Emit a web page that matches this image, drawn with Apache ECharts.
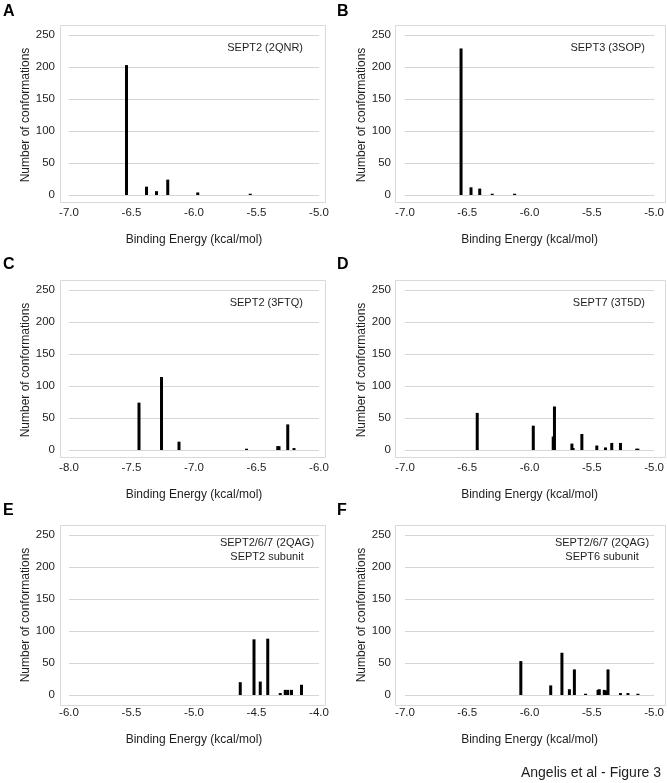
<!DOCTYPE html>
<html>
<head>
<meta charset="utf-8">
<script src="https://cdn.jsdelivr.net/npm/echarts@6/dist/echarts.min.js"></script>
<style>
  html, body { margin: 0; padding: 0; background: #ffffff; }
  #chart { width: 667px; height: 783px; }
</style>
</head>
<body>
<div id="chart"></div>
<script>
// ---- Data (binding energy in kcal/mol, number of conformations) ----
const energyA = [-6.54, -6.38, -6.30, -6.21, -5.97, -5.55];
const countA  = [203, 13, 6, 24, 4, 2];

const energyB = [-6.55, -6.47, -6.40, -6.30, -6.12];
const countB  = [229, 12, 10, 2, 2];

const energyC = [-7.44, -7.26, -7.12, -6.58, -6.33, -6.32, -6.25, -6.20];
const countC  = [74, 114, 13, 2, 6, 6, 40, 3];

const energyD = [-6.42, -5.97, -5.81, -5.80, -5.66, -5.65, -5.58, -5.46, -5.39, -5.34, -5.27, -5.14, -5.13];
const countD  = [58, 38, 21, 68, 10, 3, 25, 7, 4, 11, 11, 2, 2];

const energyE = [-4.63, -4.52, -4.47, -4.41, -4.31, -4.27, -4.25, -4.22, -4.14];
const countE  = [20, 87, 21, 88, 3, 8, 8, 8, 16];

const energyF = [-6.07, -5.83, -5.74, -5.68, -5.64, -5.55, -5.45, -5.44, -5.40, -5.39, -5.37, -5.27, -5.21, -5.13];
const countF  = [53, 15, 66, 9, 40, 2, 8, 9, 8, 7, 40, 3, 3, 2];

const panelLetters = ['A', 'B', 'C', 'D', 'E', 'F'];
const panelTitles = [
  ['SEPT2 (2QNR)'],
  ['SEPT3 (3SOP)'],
  ['SEPT2 (3FTQ)'],
  ['SEPT7 (3T5D)'],
  ['SEPT2/6/7 (2QAG)', 'SEPT2 subunit'],
  ['SEPT2/6/7 (2QAG)', 'SEPT6 subunit']
];
const xRanges = [[-7, -5], [-7, -5], [-8, -6], [-7, -5], [-6, -4], [-7, -5]];
const yTicks = [0, 50, 100, 150, 200, 250];
const xName = 'Binding Energy (kcal/mol)';
const yName = 'Number of conformations';
const footer = 'Angelis et al - Figure 3';

const energies = [energyA, energyB, energyC, energyD, energyE, energyF];
const counts = [countA, countB, countC, countD, countE, countF];

// ---- Layout ----
const FONT = 'Liberation Sans, Arial, Helvetica, sans-serif';
const TXT = '#1e1e1e';
const colLeft = [69, 405];
const gridW = 250;
const rowTop = [35, 290, 535];
const gridH = 160;
const frameX = [60, 395];
const frameW = [265, 270];
const frameY = [25, 280, 525];
const frameH = [177, 177, 180];

const grids = [], xAxes = [], yAxes = [], series = [], graphics = [];

for (let i = 0; i < 6; i++) {
  const col = i % 2, row = Math.floor(i / 2);
  grids.push({ left: colLeft[col], top: rowTop[row], width: gridW, height: gridH, containLabel: false });
  xAxes.push({
    type: 'value', gridIndex: i,
    min: xRanges[i][0], max: xRanges[i][1], interval: 0.5,
    axisLine: { show: false }, axisTick: { show: false }, splitLine: { show: false },
    axisLabel: { formatter: v => v.toFixed(1), fontSize: 11.5, color: TXT, fontFamily: FONT, margin: 12 },
    name: xName, nameLocation: 'middle', nameGap: 39,
    nameTextStyle: { fontSize: 12, color: TXT, fontFamily: FONT }
  });
  yAxes.push({
    type: 'value', gridIndex: i,
    min: yTicks[0], max: yTicks[yTicks.length - 1], interval: 50,
    axisLine: { show: false }, axisTick: { show: false },
    splitLine: { show: true, lineStyle: { color: '#d6d6d6', width: 1 } },
    axisLabel: { fontSize: 11.5, color: TXT, fontFamily: FONT, margin: 14 },
    name: yName, nameLocation: 'middle', nameGap: 35,
    nameTextStyle: { fontSize: 12, color: TXT, fontFamily: FONT }
  });
  series.push({
    type: 'bar', xAxisIndex: i, yAxisIndex: i,
    barWidth: 3,
    itemStyle: { color: '#000000' },
    data: energies[i].map((e, j) => [e, counts[i][j]])
  });
  // panel frame
  graphics.push({
    type: 'rect', z: -1, silent: true,
    shape: { x: frameX[col] + 0.5, y: frameY[row] + 0.5, width: frameW[col], height: frameH[row] },
    style: { fill: 'none', stroke: '#d9d9d9', lineWidth: 1 }
  });
  // panel letter
  graphics.push({
    type: 'text', silent: true,
    x: col === 0 ? 3 : 337, y: row === 0 ? 4 : (row === 1 ? 257 : 503),
    style: { text: panelLetters[i], font: 'bold 16px ' + FONT, fill: '#000', textVerticalAlign: 'top' }
  });
  // annotation
  const t = panelTitles[i];
  if (t.length === 1) {
    graphics.push({
      type: 'text', silent: true,
      x: colLeft[col] + (col === 0 ? 234 : 240), y: rowTop[row] + 13,
      style: { text: t[0], font: '11px ' + FONT, fill: TXT, textAlign: 'right', textVerticalAlign: 'middle' }
    });
  } else {
    const cx = col === 0 ? 267 : 602;
    graphics.push({
      type: 'text', silent: true, x: cx, y: rowTop[row] + 8,
      style: { text: t[0], font: '11px ' + FONT, fill: TXT, textAlign: 'center', textVerticalAlign: 'middle' }
    });
    graphics.push({
      type: 'text', silent: true, x: cx, y: rowTop[row] + 22,
      style: { text: t[1], font: '11px ' + FONT, fill: TXT, textAlign: 'center', textVerticalAlign: 'middle' }
    });
  }
}
graphics.push({
  type: 'text', silent: true, x: 661, y: 773,
  style: { text: footer, font: '14px ' + FONT, fill: TXT, textAlign: 'right', textVerticalAlign: 'middle' }
});

const chart = echarts.init(document.getElementById('chart'), null, { renderer: 'canvas' });
chart.setOption({
  animation: false,
  backgroundColor: '#ffffff',
  grid: grids,
  xAxis: xAxes,
  yAxis: yAxes,
  series: series,
  graphic: graphics
});
</script>
</body>
</html>
